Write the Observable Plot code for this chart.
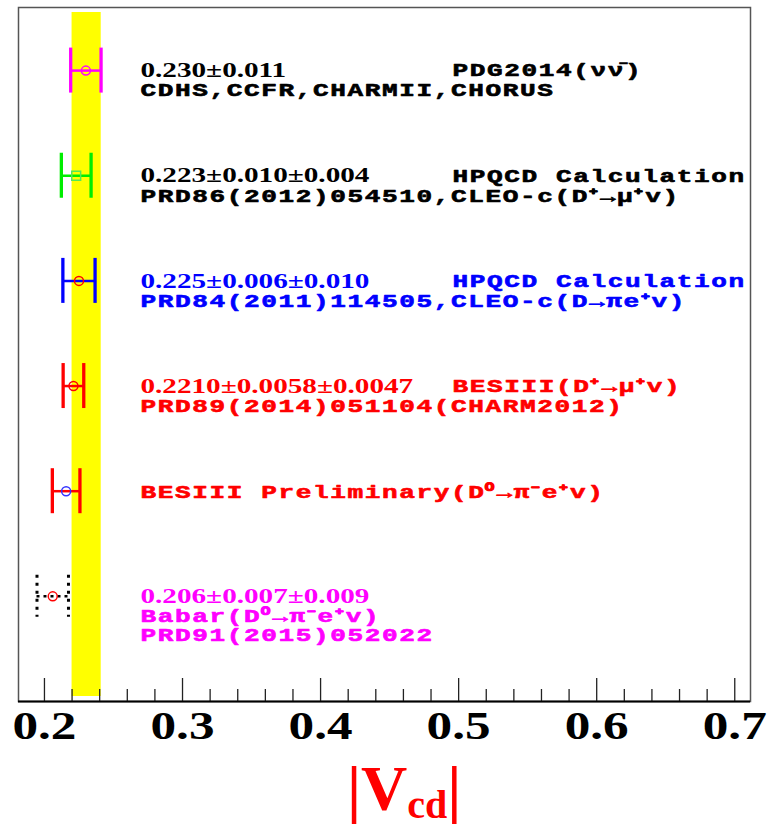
<!DOCTYPE html>
<html>
<head>
<meta charset="utf-8">
<script src="https://cdn.jsdelivr.net/npm/d3@7"></script>
<script src="https://cdn.jsdelivr.net/npm/@observablehq/plot@0.6"></script>
<style>
  html, body { margin: 0; padding: 0; background: #fff; }
  #chart { position: relative; width: 769px; height: 829px; overflow: hidden; }
  #xtitle {
    position: absolute; top: 757px; left: 347px;
    font: bold 64px "Liberation Serif", serif; line-height: 64px;
    color: #ff0000; white-space: nowrap;
  }
  #xtitle .sub { font-size: 40px; position: relative; top: 8px; }
</style>
</head>
<body>
<div id="chart">
  <div id="xtitle">|V<span class="sub">cd</span>|</div>
</div>
<script>
// |Vcd| determinations, top row first
const experiments = ["PDG2014", "HPQCD D+ -> mu nu", "HPQCD D -> pi e nu", "BESIII D+ -> mu nu", "BESIII D0 -> pi e nu (prelim.)", "Babar D0 -> pi e nu"];
const rowPosition = [6, 5, 4, 3, 2, 1];
const vcd = [0.230, 0.223, 0.225, 0.2210, 0.2157, 0.206];
const statErr = [0.011, 0.010, 0.006, 0.0058, 0.0100, 0.007];
const systErr = [0, 0.004, 0.010, 0.0047, 0, 0.009];

// reference band
const bandRange = [0.2200, 0.2411];

// axis ticks
const majorTicks = [0.2, 0.3, 0.4, 0.5, 0.6, 0.7];
const minorTicks = d3.range(0.22, 0.70, 0.02).filter(v => Math.abs(v * 10 - Math.round(v * 10)) > 1e-6);

// annotation text per row
const valueText = ["0.230±0.011", "0.223±0.010±0.004", "0.225±0.006±0.010", "0.2210±0.0058±0.0047", null, "0.206±0.007±0.009"];
const sourceText = ["PDG2014(νν̄)", "HPQCD Calculation", "HPQCD Calculation", "BESIII(D⁺→μ⁺v)", null, null];
const detailText = [
  ["CDHS,CCFR,CHARMII,CHORUS"],
  ["PRD86(2012)054510,CLEO-c(D⁺→μ⁺v)"],
  ["PRD84(2011)114505,CLEO-c(D→πe⁺v)"],
  ["PRD89(2014)051104(CHARM2012)"],
  ["BESIII Preliminary(D⁰→π⁻e⁺v)"],
  ["Babar(D⁰→π⁻e⁺v)", "PRD91(2015)052022"]
];

// drawing styles per row
const rowStyle = {
  "PDG2014":                       {bar: "#ff00ff", marker: "#ff00ff", symbol: "circle", text: "#000000"},
  "HPQCD D+ -> mu nu":             {bar: "#00ee00", marker: "#55e855", symbol: "square", text: "#000000"},
  "HPQCD D -> pi e nu":            {bar: "#0000ff", marker: "#ff0000", symbol: "circle", text: "#0000ff"},
  "BESIII D+ -> mu nu":            {bar: "#ff0000", marker: "#ff0000", symbol: "circle", text: "#ff0000"},
  "BESIII D0 -> pi e nu (prelim.)":{bar: "#ff0000", marker: "#3333ff", symbol: "circle", text: "#ff0000"},
  "Babar D0 -> pi e nu":           {bar: "#000000", marker: "#ff0000", symbol: "circle", text: "#ff00ff", dotted: true}
};

const rows = experiments.map((name, i) => {
  const err = Math.hypot(statErr[i], systErr[i]);
  return {name, pos: rowPosition[i], v: vcd[i], lo: vcd[i] - err, hi: vcd[i] + err, ...rowStyle[name]};
});
const solid = rows.filter(d => !d.dotted);
const dotted = rows.filter(d => d.dotted);
const caps = rows.flatMap(d => [{...d, x: d.lo}, {...d, x: d.hi}]);

// text lines: serif value line first, then monospace detail lines
const lines = [];
rows.forEach((d, i) => {
  let k = 0;
  if (valueText[i]) lines.push({pos: d.pos, k: k++, text: valueText[i], font: "serif", color: d.text});
  if (sourceText[i]) lines.push({pos: d.pos, k: 0, text: sourceText[i], font: "source", color: d.text});
  detailText[i].forEach(t => lines.push({pos: d.pos, k: k++, text: t, font: "mono", color: d.text}));
});

const W = 769, H = 760, mTop = 7, mBottom = 59, mLeft = 18, mRight = 19;
const frameH = H - mTop - mBottom;
const lineGap = 19;
const monoStyle = {textAnchor: "start", fontFamily: "Liberation Mono", fontWeight: "bold", fontSize: 18,
  stroke: "color", strokeWidth: 0.6, paintOrder: "fill"};

const textMarks = [];
for (let k = 0; k < 3; k++) {
  textMarks.push(Plot.text(lines.filter(l => l.k === k && l.font === "serif"), {
    y: "pos", text: "text", fill: "color", frameAnchor: "left", dx: 122, dy: k * lineGap,
    textAnchor: "start", fontFamily: "Liberation Serif", fontWeight: "bold", fontSize: 21
  }));
  textMarks.push(Plot.text(lines.filter(l => l.k === k && l.font === "mono"), {
    y: "pos", text: "text", fill: "color", frameAnchor: "left", dx: 122, dy: k * lineGap + 1, ...monoStyle
  }));
}
textMarks.push(Plot.text(lines.filter(l => l.font === "source"), {
  y: "pos", text: "text", fill: "color", frameAnchor: "left", dx: 434, dy: 0, ...monoStyle
}));

const chart = Plot.plot({
  width: W, height: H,
  marginTop: mTop, marginBottom: mBottom, marginLeft: mLeft, marginRight: mRight,
  x: {domain: [0.1812, 0.7114], axis: null},
  y: {domain: [0, 6.6], axis: null},
  color: {type: "identity"},
  style: {background: "#ffffff"},
  marks: [
    // reference band
    Plot.rect([bandRange], {x1: d => d[0], x2: d => d[1], fill: "#ffff00", insetTop: 5, insetBottom: 5}),
    // ticks on the inside of the bottom edge
    Plot.ruleX(majorTicks, {x: d => d, insetTop: frameH - 23, stroke: "#222", strokeWidth: 1.3}),
    Plot.ruleX(minorTicks, {x: d => d, insetTop: frameH - 12, stroke: "#222", strokeWidth: 1.3}),
    Plot.frame({stroke: "#555", strokeWidth: 1.5}),
    Plot.ruleY([0], {stroke: "#000", strokeWidth: 2}),
    // error bars
    Plot.ruleY(solid, {y: "pos", x1: "lo", x2: "hi", stroke: "bar", strokeWidth: 2.5}),
    Plot.ruleX(caps.filter(d => !d.dotted), {x: "x", y1: "pos", y2: "pos", insetTop: -22.5, insetBottom: -22.5, stroke: "bar", strokeWidth: 3.3}),
    Plot.ruleY(dotted, {y: "pos", x1: "lo", x2: "hi", stroke: "bar", strokeWidth: 2.5, strokeDasharray: "3,4"}),
    Plot.ruleX(caps.filter(d => d.dotted), {x: "x", y1: "pos", y2: "pos", insetTop: -21, insetBottom: -21, stroke: "bar", strokeWidth: 3, strokeDasharray: "3,5"}),
    // central values
    Plot.dot(rows.filter(d => d.symbol === "circle"), {x: "v", y: "pos", r: 4.5, stroke: "marker", fill: "none", strokeWidth: 1.5}),
    Plot.dot(rows.filter(d => d.symbol === "square"), {x: "v", y: "pos", r: 5, symbol: "square", stroke: "marker", fill: "none", strokeWidth: 1.5}),
    // tick labels
    Plot.text(majorTicks, {x: d => d, frameAnchor: "bottom", dy: 37, text: d => d.toFixed(1),
      fontFamily: "Liberation Serif", fontWeight: "bold", fontSize: 41, fill: "#000"}),
    ...textMarks
  ]
});

// widen the glyphs of each text group
const stretch = {"18": 1.45, "21": 1.39, "41": 1.25};
chart.querySelectorAll("g[aria-label='text']").forEach(g => {
  const s = stretch[g.getAttribute("font-size")];
  if (!s) return;
  if (g.getAttribute("font-size") === "18") g.setAttribute("letter-spacing", "1.1");
  g.querySelectorAll("text").forEach(t => {
    t.setAttribute("transform", (t.getAttribute("transform") || "") + ` scale(${s},1)`);
  });
});

document.getElementById("chart").prepend(chart);
</script>
</body>
</html>
